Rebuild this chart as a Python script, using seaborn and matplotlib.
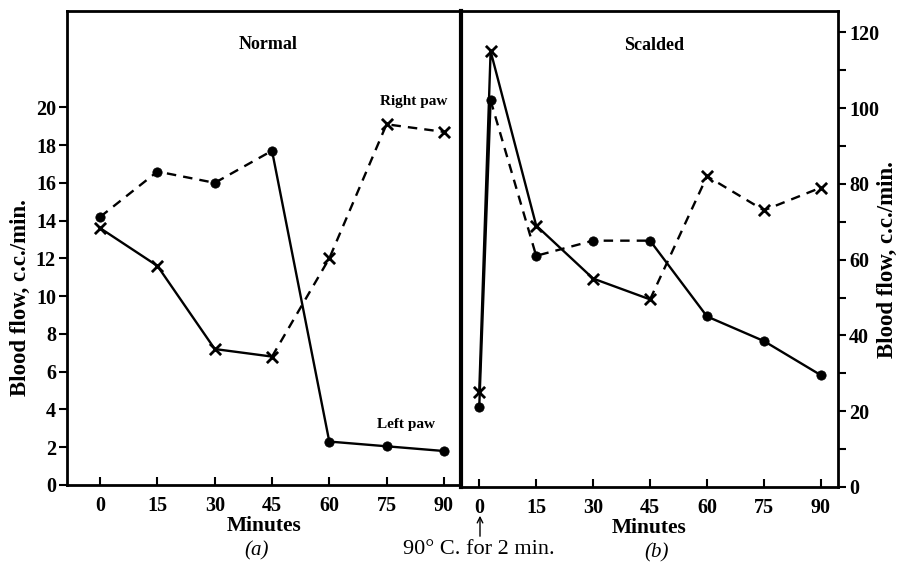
import matplotlib
matplotlib.use("Agg")
import pandas as pd
import seaborn as sns
from matplotlib import pyplot as plt

# values
minutes = [0, 15, 30, 45, 60, 75, 90]
normal_dots = [14.2, 16.6, 16.0, 17.7, 2.3, 2.05, 1.8]
normal_crosses = [13.6, 11.6, 7.2, 6.8, 12.0, 19.1, 18.7]

scald_minutes = [0, 3, 15, 30, 45, 60, 75, 90]
scald_crosses = [25, 115, 69, 55, 49.5, 82, 73, 79]
scald_dots = [21, 102, 61, 65, 65, 45, 38.5, 29.5]

left_yticks = [0, 2, 4, 6, 8, 10, 12, 14, 16, 18, 20]
right_yticks = [0, 20, 40, 60, 80, 100, 120]
right_minor = [10, 30, 50, 70, 90, 110]

sns.set_style("ticks")
plt.rcParams['font.family'] = ['Liberation Serif', 'DejaVu Serif']
plt.rcParams['font.weight'] = 'bold'
for k in ['text.color', 'axes.labelcolor', 'xtick.color', 'ytick.color', 'axes.edgecolor']:
    plt.rcParams[k] = 'black'

fig = plt.figure(figsize=(9.04, 5.67), dpi=100)
ax1 = fig.add_axes([67/904, 1 - 485/567, (461 - 67)/904, (485 - 11)/567])
ax2 = fig.add_axes([461/904, 1 - 487/567, (838 - 461)/904, (487 - 11)/567])


def seg(ax, x, y, i0, i1, ls):
    d = pd.DataFrame({"min": x[i0:i1 + 1], "flow": y[i0:i1 + 1]})
    sns.lineplot(data=d, x="min", y="flow", ax=ax, color="black",
                 linestyle=ls, linewidth=1.7, sort=False, estimator=None)


def marks(ax, x, y, m):
    d = pd.DataFrame({"min": x, "flow": y})
    if m == "o":
        sns.scatterplot(data=d, x="min", y="flow", ax=ax, marker="o", s=45,
                        color="black", edgecolor="black", zorder=5)
    else:
        sns.scatterplot(data=d, x="min", y="flow", ax=ax, marker="x", s=65,
                        color="black", linewidth=2, zorder=5)


# (a) normal
seg(ax1, minutes, normal_dots, 0, 3, (0, (4, 3)))
seg(ax1, minutes, normal_dots, 3, 6, "-")
seg(ax1, minutes, normal_crosses, 0, 3, "-")
seg(ax1, minutes, normal_crosses, 3, 6, (0, (4, 3)))
marks(ax1, minutes, normal_dots, "o")
marks(ax1, minutes, normal_crosses, "x")

# (b) scalded
seg(ax2, scald_minutes, scald_crosses, 0, 4, "-")
seg(ax2, scald_minutes, scald_crosses, 4, 7, (0, (4, 3)))
seg(ax2, scald_minutes, scald_dots, 0, 1, "-")
seg(ax2, scald_minutes, scald_dots, 1, 4, (0, (4, 3)))
seg(ax2, scald_minutes, scald_dots, 4, 7, "-")
marks(ax2, scald_minutes, scald_dots, "o")
marks(ax2, scald_minutes, scald_crosses, "x")

tick_font = {"family": "Liberation Serif", "size": 14.5, "weight": "bold"}

ax1.set_xlim(-8.7, 94.5)
ax1.set_ylim(0, 25.1)
ax1.set_xticks(minutes)
ax1.set_xticklabels([str(m) for m in minutes], fontdict=tick_font)
ax1.set_yticks(left_yticks)
ax1.set_yticklabels([str(v) for v in left_yticks], fontdict=tick_font)
ax1.tick_params(axis="x", direction="in", length=6, width=1.5, pad=8)
ax1.tick_params(axis="y", direction="out", length=6, width=1.5, pad=2)
ax1.set_xlabel("Minutes", fontsize=15.5, fontweight="bold", labelpad=0)
ax1.set_ylabel("Blood flow, c.c./min.", fontsize=16.5, fontweight="bold")
ax1.yaxis.set_label_coords((20 - 67)/394, (485 - 298)/474)
ax1.yaxis.label.set_va("center")
for s in ["left", "top", "bottom"]:
    ax1.spines[s].set_linewidth(2)
ax1.spines["right"].set_visible(False)

ax2.set_xlim(-4.8, 94.5)
ax2.set_ylim(0, 125.6)
ax2.set_xticks(minutes)
ax2.set_xticklabels([str(m) for m in minutes], fontdict=tick_font)
ax2.set_yticks(right_yticks)
ax2.set_yticks(right_minor, minor=True)
ax2.set_yticklabels([str(v) for v in right_yticks], fontdict=tick_font)
ax2.yaxis.tick_right()
ax2.yaxis.set_label_position("right")
ax2.tick_params(axis="x", direction="in", length=6, width=1.5, pad=8)
ax2.tick_params(axis="y", which="both", direction="out", length=6, width=1.5, pad=2)
ax2.set_xlabel("Minutes", fontsize=15.5, fontweight="bold", labelpad=0)
ax2.set_ylabel("Blood flow, c.c./min.", fontsize=16.5, fontweight="bold",
               rotation=90)
ax2.yaxis.set_label_coords((887 - 461)/377, (487 - 260)/476)
ax2.yaxis.label.set_va("center")
for s in ["right", "top", "bottom"]:
    ax2.spines[s].set_linewidth(2)
ax2.spines["left"].set_linewidth(3)

# panel texts
ax1.text(44, 23.3, "Normal", ha="center", va="center", fontsize=13, fontweight="bold")
ax2.text(46, 116.5, "Scalded", ha="center", va="center", fontsize=13, fontweight="bold")
ax1.text(82, 20.3, "Right paw", ha="center", va="center", fontsize=11, fontweight="bold")
ax1.text(80, 3.2, "Left paw", ha="center", va="center", fontsize=11, fontweight="bold")

fig.text(257/904, 1 - 551/567, "(a)", ha="center", va="center", fontsize=15,
         fontstyle="italic", fontweight="normal")
fig.text(657/904, 1 - 553/567, "(b)", ha="center", va="center", fontsize=15,
         fontstyle="italic", fontweight="normal")
fig.text(479/904, 1 - 549/567, "90° C. for 2 min.", ha="center", va="center",
         fontsize=16, fontweight="normal")
fig.add_artist(matplotlib.patches.FancyArrowPatch(
    (480/904, 1 - 539/567), (480/904, 1 - 513/567), transform=fig.transFigure,
    arrowstyle="->", mutation_scale=10, color="black", linewidth=1))

fig.savefig("out.png", dpi=100)
